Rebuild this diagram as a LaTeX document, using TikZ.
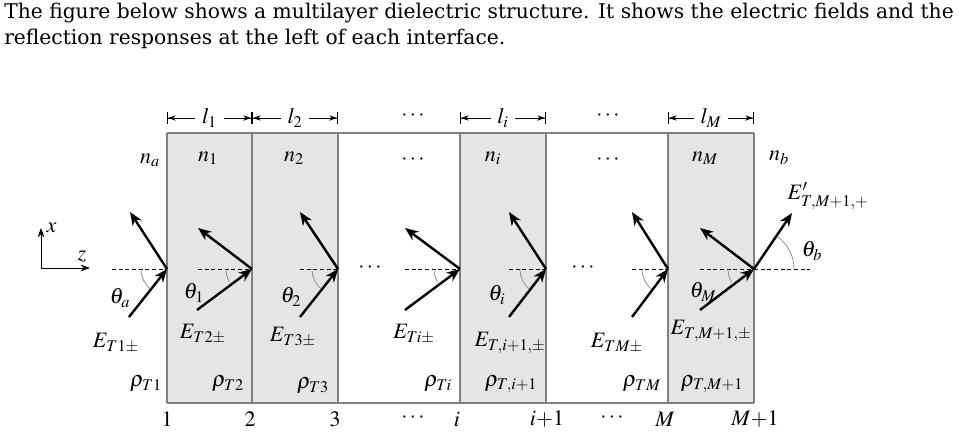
\documentclass[tikz,border=0pt]{standalone}
\usepackage{mathptmx}
\usepackage{fontspec}
\setmainfont{DejaVu Serif}
\usetikzlibrary{arrows.meta}
\begin{document}
\begin{tikzpicture}[x=0.75pt,y=-0.75pt,
  ray/.style={line width=1.8pt,-{Stealth[length=10pt,width=8pt]}},
  frame/.style={draw=gray,line width=0.8pt},
  dashln/.style={densely dashed,line width=0.5pt},
  arcln/.style={gray,line width=0.5pt},
  lab/.style={inner sep=0pt,font=\fontsize{16.5}{16.5}\selectfont},
  dim/.style={line width=0.6pt,{Bar[width=9pt]Stealth[length=6pt,width=4pt]}-{Stealth[length=6pt,width=4pt]Bar[width=9pt]}}]
\useasboundingbox (0,0) rectangle (959,443);
\node[anchor=north west,align=left,inner sep=0pt,font=\fontsize{15.2}{19.5}\selectfont] (title) at (4,3)
 {The figure below shows a multilayer dielectric structure. It shows the electric fields and the\\reflection responses at the left of each interface.};
% layers
\fill[gray!20] (167,133) rectangle (338,403);
\fill[gray!20] (460,133) rectangle (546,403);
\fill[gray!20] (668,133) rectangle (754,403);
\draw[frame] (167,133) -- (754,133);
\draw[frame] (167,403) -- (754,403);
\foreach \x in {167,252,338,460,546,668,754} \draw[frame] (\x,133) -- (\x,403);
\foreach \n/\x in {a/167,b/252,c/338,d/460,e/546,f/668,g/754} \coordinate (p\n) at (\x,269);
\foreach \n/\x in {a/112,b/198,c/300,d/405,e/509,f/632,g/700} \draw[dashln] (\x,269) -- (p\n);
\draw[dashln] (pg) -- (810,269);
\coordinate (ia) at (129,317); \coordinate (ra) at (130,212);
\coordinate (ib) at (197,310); \coordinate (rb) at (198,228);
\coordinate (ic) at (300,317); \coordinate (rc) at (300,212);
\coordinate (id) at (405,310); \coordinate (rd) at (405,228);
\coordinate (ie) at (509,317); \coordinate (re) at (509,212);
\coordinate (if) at (632,317); \coordinate (rf) at (632,212);
\coordinate (ig) at (700,310); \coordinate (rg) at (700,228);
\coordinate (tg) at (792,213);
\foreach \n in {a,b,c,d,e,f,g}{
  \draw[ray] (i\n) -- (p\n);
  \draw[ray] (p\n) -- (r\n);
}
\draw[ray] (pg) -- (tg);
\foreach \n/\a in {a/129,b/150,c/129,d/150,e/129,f/129,g/150}
  \draw[arcln] ([shift={(-26,0)}]p\n) arc[start angle=180,end angle=\a,radius=26];
\draw[arcln] ([shift={(40,0)}]pg) arc[start angle=0,end angle=-55,radius=40];
\coordinate (o) at (41,268);
\draw[line width=0.6pt,-{Stealth[length=7pt,width=5pt]}] (o) -- (41,228) node[lab,anchor=west,xshift=4pt] (xl) {$x$};
\draw[line width=0.6pt,-{Stealth[length=7pt,width=5pt]}] (o) -- (90,268) node[lab,anchor=south,xshift=-6pt,yshift=4pt] (zl) {$z$};
\draw[dim] (167,118) -- (252,118) node[midway,fill=white,lab,inner xsep=5pt] (l1) {$l_1$};
\draw[dim] (252,118) -- (338,118) node[midway,fill=white,lab,inner xsep=5pt] (l2) {$l_2$};
\draw[dim] (460,118) -- (546,118) node[midway,fill=white,lab,inner xsep=5pt] (li) {$l_i$};
\draw[dim] (668,118) -- (754,118) node[midway,fill=white,lab,inner xsep=5pt] (lM) {$l_M$};
\foreach \n/\x/\y in {d1/413/116,d2/608/116,d3/413/160,d4/608/160,d5/370/268,d6/583/268,d7/413/418,d8/612/418}
  \node[lab] (\n) at (\x,\y) {$\cdots$};
\node[lab] (na) at (150,160) {$n_a$};
\node[lab] (n1) at (208,158) {$n_1$};
\node[lab] (n2) at (294,158) {$n_2$};
\node[lab] (ni) at (493,158) {$n_i$};
\node[lab] (nM) at (705,158) {$n_M$};
\node[lab] (nb) at (779,158) {$n_b$};
\node[lab] (Ep) at (828,196) {$E'_{T,M+1,+}$};
\node[lab] (thb) at (812,251) {$\theta_b$};
\node[lab] (tha) at (120,298) {$\theta_a$};
\node[lab] (th1) at (194,293) {$\theta_1$};
\node[lab] (th2) at (291,297) {$\theta_2$};
\node[lab] (thi) at (497,295) {$\theta_i$};
\node[lab] (thM) at (703,292) {$\theta_M$};
\node[lab] (E1) at (116,343) {$E_{T1\pm}$};
\node[lab] (E2) at (203,334) {$E_{T2\pm}$};
\node[lab] (E3) at (293,337) {$E_{T3\pm}$};
\node[lab] (Ei) at (414,334) {$E_{Ti\pm}$};
\node[lab] (Ei1) at (510,343) {$E_{T,i+1,\pm}$};
\node[lab] (EM) at (617,343) {$E_{TM\pm}$};
\node[lab] (EM1) at (711,331) {$E_{T,M+1,\pm}$};
\node[lab] (r1) at (146,384) {$\rho_{T1}$};
\node[lab] (r2) at (228,384) {$\rho_{T2}$};
\node[lab] (r3) at (313,386) {$\rho_{T3}$};
\node[lab] (ri) at (438,384) {$\rho_{Ti}$};
\node[lab] (ri1) at (511,384) {$\rho_{T,i+1}$};
\node[lab] (rM) at (642,384) {$\rho_{TM}$};
\node[lab] (rM1) at (712,384) {$\rho_{T,M+1}$};
\foreach \n/\x/\t in {b1/167/1,b2/250/2,b3/335/3,bi/457/i,bi1/547/i{+}1,bM/665/M,bM1/755/M{+}1}
  \node[lab] (\n) at (\x,419) {$\t$};
\end{tikzpicture}
\end{document}
